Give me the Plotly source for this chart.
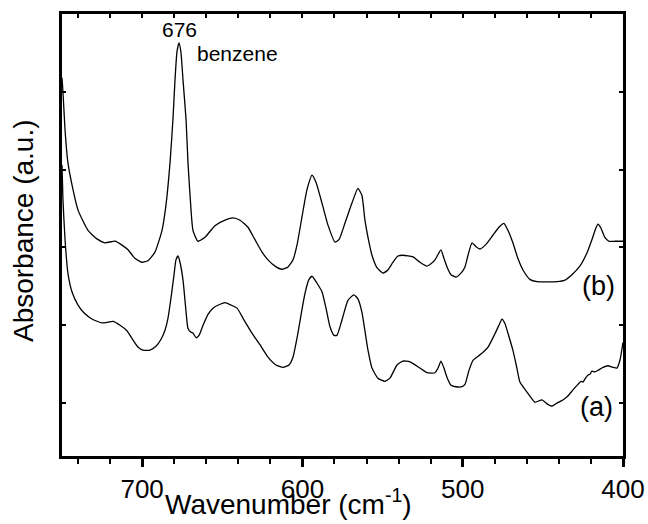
import plotly.graph_objects as go

# Curve (b): wavenumber (cm^-1) and absorbance (a.u., offset)
wn_b = [750.0, 749.4, 748.1, 746.3, 743.1, 740.0, 733.8, 728.2, 723.2, 716.9, 712.6, 708.8, 704.5, 700.1,
        696.4, 692.0, 687.6, 685.1, 682.6, 680.8, 679.5, 678.3, 677.0, 675.8, 674.5, 672.6, 671.4, 669.5,
        668.3, 665.2, 660.8, 654.6, 648.3, 643.3, 638.9, 634.0, 629.6, 625.2, 621.5, 617.1, 612.8, 609.0,
        605.9, 603.4, 600.3, 597.2, 594.0, 591.6, 587.8, 584.1, 579.7, 577.2, 573.5, 569.1, 565.4, 562.9,
        561.0, 559.1, 556.6, 553.5, 549.8, 546.7, 543.5, 540.4, 537.3, 531.0, 526.7, 522.3, 519.8, 517.3,
        513.6, 511.7, 509.8, 507.3, 504.2, 501.1, 498.6, 496.7, 494.2, 491.7, 489.2, 485.5, 481.1, 477.4,
        474.3, 471.8, 468.7, 465.6, 462.4, 458.1, 453.7, 441.2, 436.2, 431.9, 426.9, 422.5, 419.4, 416.9,
        415.6, 413.8, 411.3, 408.8, 405.0, 400.0]
abs_b = [5.18, 5.00, 4.51, 4.09, 3.74, 3.48, 3.22, 3.11, 3.06, 3.08, 3.03, 2.97, 2.86, 2.81,
         2.83, 2.94, 3.22, 3.55, 4.09, 4.64, 5.15, 5.51, 5.63, 5.51, 5.15, 4.64, 4.09, 3.48,
         3.22, 3.08, 3.13, 3.28, 3.35, 3.38, 3.35, 3.26, 3.10, 2.94, 2.84, 2.76, 2.72, 2.75,
         2.84, 3.03, 3.39, 3.74, 3.93, 3.84, 3.57, 3.29, 3.07, 3.10, 3.31, 3.57, 3.76, 3.67,
         3.35, 3.13, 2.90, 2.74, 2.67, 2.71, 2.81, 2.89, 2.90, 2.88, 2.81, 2.76, 2.79, 2.84,
         2.97, 2.86, 2.75, 2.65, 2.62, 2.67, 2.75, 2.90, 3.06, 3.01, 2.98, 3.04, 3.16, 3.26,
         3.31, 3.22, 3.06, 2.86, 2.71, 2.59, 2.56, 2.56, 2.58, 2.65, 2.76, 2.93, 3.10, 3.25,
         3.30, 3.25, 3.13, 3.08, 3.08, 3.08]

# Curve (a)
wn_a = [750.0, 749.4, 748.1, 746.3, 743.8, 740.0, 736.3, 731.3, 725.0, 721.3, 718.2, 713.8, 709.5, 705.7,
        702.6, 699.5, 695.1, 691.4, 688.2, 685.7, 683.9, 682.0, 680.1, 678.9, 677.6, 676.4, 674.5, 672.6,
        671.4, 669.5, 668.3, 666.4, 664.5, 662.0, 658.9, 655.8, 651.4, 648.3, 644.6, 640.8, 636.5, 631.5,
        626.5, 621.5, 616.5, 612.1, 608.4, 605.9, 602.8, 600.3, 598.4, 595.9, 594.0, 590.9, 587.8, 585.3,
        582.8, 580.3, 578.5, 575.3, 571.6, 567.9, 565.4, 562.9, 559.1, 556.6, 552.9, 548.5, 545.4, 541.0,
        537.3, 532.9, 526.7, 522.3, 517.3, 515.4, 513.6, 511.7, 509.8, 507.3, 504.2, 500.5, 498.6, 496.1,
        493.6, 489.2, 484.2, 479.9, 477.4, 475.5, 473.6, 471.8, 468.7, 466.2, 464.3, 459.9, 454.9, 452.4,
        450.5, 447.4, 444.3, 441.2, 437.5, 434.4, 431.2, 428.1, 426.2, 425.0, 423.1, 421.8, 420.6, 419.4,
        417.5, 415.6, 412.5, 409.4, 406.3, 403.8, 401.9, 400.0]
abs_a = [4.06, 3.61, 3.10, 2.67, 2.43, 2.26, 2.16, 2.08, 2.03, 2.04, 2.05, 2.00, 1.93, 1.81,
         1.72, 1.68, 1.68, 1.73, 1.82, 1.94, 2.09, 2.35, 2.65, 2.84, 2.89, 2.81, 2.58, 2.17,
         1.96, 1.91, 1.90, 1.84, 1.87, 2.00, 2.14, 2.22, 2.27, 2.29, 2.26, 2.22, 2.07, 1.90,
         1.75, 1.59, 1.49, 1.46, 1.49, 1.59, 1.90, 2.20, 2.41, 2.59, 2.63, 2.54, 2.43, 2.22,
         1.98, 1.87, 1.87, 2.07, 2.32, 2.39, 2.34, 2.17, 1.68, 1.45, 1.32, 1.28, 1.32, 1.49,
         1.54, 1.53, 1.45, 1.39, 1.39, 1.45, 1.54, 1.45, 1.33, 1.23, 1.21, 1.21, 1.24, 1.42,
         1.55, 1.62, 1.72, 1.89, 2.00, 2.08, 2.02, 1.90, 1.68, 1.45, 1.27, 1.14, 1.01, 1.03,
         1.04, 0.99, 0.96, 1.00, 1.04, 1.09, 1.17, 1.24, 1.28, 1.27, 1.33, 1.36, 1.37, 1.41,
         1.40, 1.42, 1.46, 1.48, 1.46, 1.45, 1.55, 1.78]

x_tick_vals = [700, 600, 500, 400]
x_tick_text = ["700", "600", "500", "400"]
y_tick_vals = [1, 2, 3, 4, 5]

FONT = "Arial, Liberation Sans, sans-serif"
LINE = dict(color="black", width=1.3, shape="spline", smoothing=0.5)

fig = go.Figure()
fig.add_trace(go.Scatter(x=wn_b, y=abs_b, mode="lines", line=LINE, showlegend=False, hoverinfo="skip"))
fig.add_trace(go.Scatter(x=wn_a, y=abs_a, mode="lines", line=LINE, showlegend=False, hoverinfo="skip"))
# invisible trace on a second (non-overlaying) subplot that only carries the top ticks
fig.add_trace(go.Scatter(x=[750, 400], y=[0.0, 0.0], xaxis="x2", yaxis="y2", mode="lines",
                         line=dict(width=0), showlegend=False, hoverinfo="skip"))

fig.update_layout(
    width=648, height=524,
    margin=dict(l=62, r=25, t=14, b=68, autoexpand=False),
    paper_bgcolor="white", plot_bgcolor="rgba(0,0,0,0)",
    font=dict(family=FONT, color="black", size=27),
    xaxis=dict(
        range=[750, 400], tickvals=x_tick_vals, ticktext=x_tick_text,
        ticks="outside", ticklen=8, tickwidth=2.5, tickcolor="black",
        minor=dict(dtick=20, tick0=400, ticks="outside", ticklen=5, tickwidth=2, tickcolor="black"),
        showline=True, linecolor="black", linewidth=3, mirror=True,
        showgrid=False, zeroline=False, automargin=False,
        tickfont=dict(size=26, family=FONT),
    ),
    xaxis2=dict(
        range=[750, 400], anchor="y2", side="top", dtick=20, tick0=400,
        ticks="inside", ticklen=4, tickwidth=2, tickcolor="black",
        showticklabels=False, showline=False, showgrid=False, zeroline=False, automargin=False,
    ),
    yaxis2=dict(range=[0, 1], anchor="x2", domain=[0, 1], visible=False, automargin=False),
    yaxis=dict(
        range=[0.32, 6.0], tickvals=y_tick_vals, showticklabels=False,
        ticks="inside", ticklen=4, tickwidth=2, tickcolor="black",
        showline=True, linecolor="black", linewidth=3, mirror="allticks",
        showgrid=False, zeroline=False, automargin=False,
    ),
    annotations=[
        dict(x=0.403, y=-0.149, xref="paper", yref="paper",
             text="Wavenumber (cm<sup>-1</sup>)", showarrow=False,
             xanchor="center", yanchor="bottom", font=dict(size=28, family=FONT)),
        dict(x=-0.0695, y=0.509, xref="paper", yref="paper",
             text="Absorbance (a.u.)", showarrow=False, textangle=-90,
             xanchor="center", yanchor="middle", font=dict(size=28, family=FONT)),
        dict(x=677, y=5.80, text="676", showarrow=False, xanchor="center", yanchor="middle",
             font=dict(size=21, family=FONT)),
        dict(x=667, y=5.49, text="benzene", showarrow=False, xanchor="left", yanchor="middle",
             font=dict(size=21, family=FONT)),
        dict(x=415.6, y=2.50, text="(b)", showarrow=False, xanchor="center", yanchor="middle",
             font=dict(size=27, family=FONT)),
        dict(x=416.3, y=0.95, text="(a)", showarrow=False, xanchor="center", yanchor="middle",
             font=dict(size=27, family=FONT)),
    ],
)

fig.write_html("out.html")
